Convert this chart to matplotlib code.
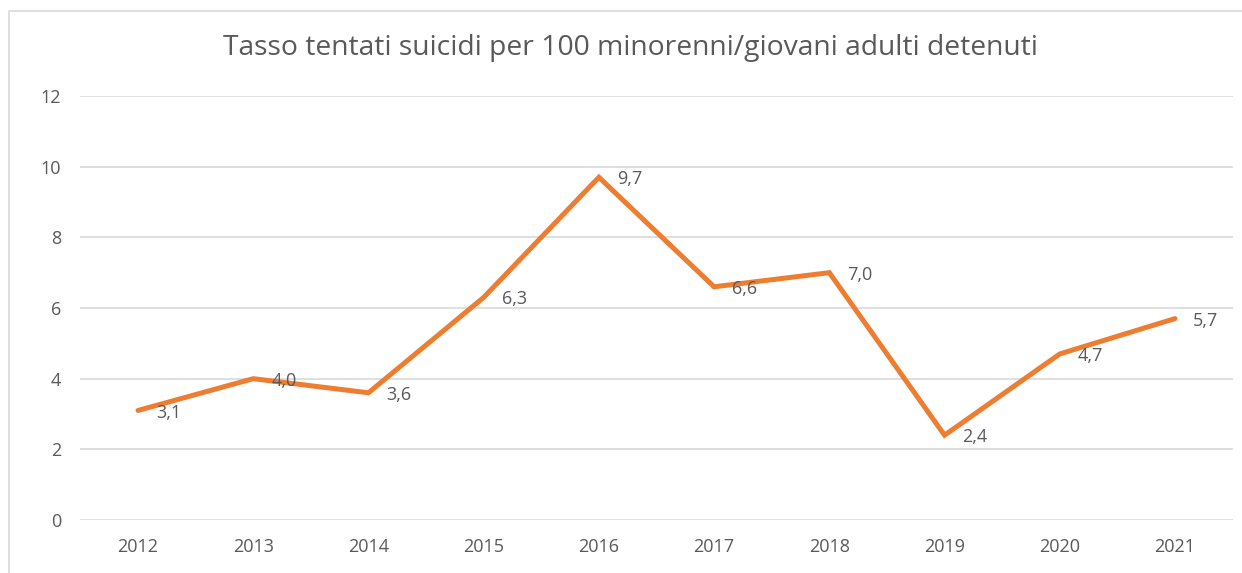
import matplotlib.pyplot as plt
from matplotlib.patches import Rectangle

anni = ['2012', '2013', '2014', '2015', '2016', '2017', '2018', '2019', '2020', '2021']
tasso = [3.1, 4.0, 3.6, 6.3, 9.7, 6.6, 7.0, 2.4, 4.7, 5.7]
titolo = 'Tasso tentati suicidi per 100 minorenni/giovani adulti detenuti'

plt.rcParams['font.family'] = ['Open Sans', 'DejaVu Sans']
grigio = '#595959'

fig = plt.figure(figsize=(12.42, 5.73), dpi=100)
# cornice dell'area grafico
fig.patches.append(Rectangle((9 / 1242, -0.1), 1.2, 1 - 11 / 573 + 0.1,
                             transform=fig.transFigure, fill=False,
                             edgecolor='#D9D9D9', linewidth=1.2))

ax = fig.add_axes([80.4 / 1242, 1 - 520 / 573, 1152.2 / 1242, 424 / 573])
x = range(len(anni))
ax.plot(x, tasso, color='#ED7D31', linewidth=3.6, solid_capstyle='round',
        solid_joinstyle='miter')

for xi, v in zip(x, tasso):
    ax.annotate(f'{v:.1f}'.replace('.', ','), (xi, v), xytext=(13, -1.5),
                textcoords='offset points', ha='left', va='center',
                fontsize=13, color=grigio)

ax.set_xlim(-0.5, len(anni) - 0.5)
ax.set_ylim(0, 12)
ax.set_yticks(range(0, 13, 2))
ax.set_xticks(list(x))
ax.set_xticklabels(anni)
ax.grid(axis='y', color='#D9D9D9', linewidth=1.2)
ax.set_axisbelow(True)
for s in ax.spines.values():
    s.set_visible(False)
ax.tick_params(length=0, labelsize=13, labelcolor=grigio)
ax.tick_params(axis='y', pad=14)
ax.tick_params(axis='x', pad=13)

fig.text(0.508, 1 - 48 / 573, titolo, ha='center', va='center',
         fontsize=20.3, color=grigio)

fig.savefig('out.png', dpi=100)
